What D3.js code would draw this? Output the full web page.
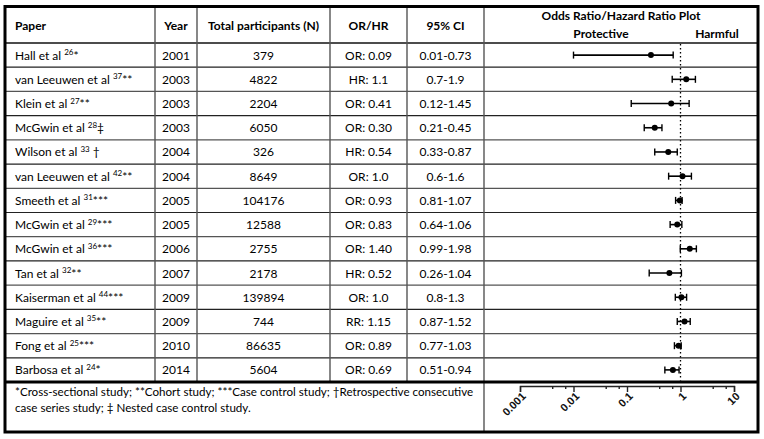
<!DOCTYPE html>
<html>
<head>
<meta charset="utf-8">
<script src="https://cdn.jsdelivr.net/npm/d3@7"></script>
<style>
  body { margin: 0; background: #fff; }
  svg { display: block; }
  .cell { font-family: Lato, "Open Sans", sans-serif; font-size: 12px; fill: #000; }
  .hdr { font-weight: bold; }
</style>
</head>
<body>
<svg id="chart" width="764" height="439"></svg>
<script>
const papers = ['Hall et al', 'van Leeuwen et al', 'Klein et al', 'McGwin et al', 'Wilson et al',
    'van Leeuwen et al', 'Smeeth et al', 'McGwin et al', 'McGwin et al', 'Tan et al',
    'Kaiserman et al', 'Maguire et al', 'Fong et al', 'Barbosa et al'];
const refs = ['26', '37', '27', '28', '33', '42', '31', '29', '36', '32', '44', '35', '25', '24'];
const marks = ['*', '**', '**', '\u2021', ' \u2020', '**', '***', '***', '***', '**', '***', '**', '***', '*'];
const years = [2001, 2003, 2003, 2003, 2004, 2004, 2005, 2005, 2006, 2007, 2009, 2009, 2010, 2014];
const participants = [379, 4822, 2204, 6050, 326, 8649, 104176, 12588, 2755, 2178, 139894, 744, 86635, 5604];
const ratioLabels = ['OR: 0.09', 'HR: 1.1', 'OR: 0.41', 'OR: 0.30', 'HR: 0.54', 'OR: 1.0', 'OR: 0.93',
    'OR: 0.83', 'OR: 1.40', 'HR: 0.52', 'OR: 1.0', 'RR: 1.15', 'OR: 0.89', 'OR: 0.69'];
const ciLow = [0.01, 0.7, 0.12, 0.21, 0.33, 0.6, 0.81, 0.64, 0.99, 0.26, 0.8, 0.87, 0.77, 0.51];
const ciHigh = [0.73, 1.9, 1.45, 0.45, 0.87, 1.6, 1.07, 1.06, 1.98, 1.04, 1.3, 1.52, 1.03, 0.94];
// point estimates as they are drawn in the plot column
const plotPoint = [0.28, 1.28, 0.67, 0.33, 0.59, 1.09, 0.97, 0.87, 1.49, 0.62, 1.04, 1.19, 0.92, 0.72];
const majorTicks = [0.001, 0.01, 0.1, 1, 10];
const minorTicks = [0.004, 0.007, 0.04, 0.07, 0.4, 0.7, 4, 7];
const headers = ['Paper', 'Year', 'Total participants (N)', 'OR/HR', '95% CI'];
const footnote = ['*Cross-sectional study; **Cohort study; ***Case control study; \u2020Retrospective consecutive',
    'case series study; \u2021 Nested case control study.'];

const svg = d3.select('#chart');
const cols = [5, 155, 197, 330, 407, 484, 758];
const tableTop = 7, headBottom = 43, tableBottom = 382, tableEnd = 432;

const y = d3.scaleBand().domain(d3.range(papers.length)).range([headBottom, tableBottom]);
const x = d3.scaleLog().domain([0.001, 10]).range([520, 734]);

// grid lines
const rowLines = d3.range(1, papers.length);
svg.selectAll('.rowline').data(rowLines).enter().append('line')
    .attr('x1', cols[0]).attr('x2', cols[6])
    .attr('y1', (i) => y(i)).attr('y2', (i) => y(i))
    .attr('stroke', (i) => i % 2 ? '#222' : '#555').attr('stroke-width', 1.2);
svg.append('line').attr('x1', cols[0]).attr('x2', cols[6])
    .attr('y1', headBottom).attr('y2', headBottom).attr('stroke', '#111').attr('stroke-width', 1.5);

svg.selectAll('.colline').data(cols.slice(1, 6)).enter().append('line')
    .attr('x1', (d) => d).attr('x2', (d) => d)
    .attr('y1', tableTop).attr('y2', (d, i) => i === 4 ? tableEnd : tableBottom)
    .attr('stroke', '#555').attr('stroke-width', 1.4);

svg.append('line').attr('x1', cols[0]).attr('x2', cols[6])
    .attr('y1', tableBottom).attr('y2', tableBottom).attr('stroke', '#000').attr('stroke-width', 3);
svg.append('rect').attr('x', cols[0]).attr('y', tableTop - 0.5)
    .attr('width', cols[6] - cols[0]).attr('height', tableEnd - tableTop + 0.5)
    .attr('fill', 'none').attr('stroke', '#000').attr('stroke-width', 3);

// header
const colMid = (i) => (cols[i] + cols[i + 1]) / 2;
svg.selectAll('.htext').data(headers).enter().append('text')
    .attr('class', 'cell hdr')
    .attr('x', (d, i) => i === 0 ? 15 : colMid(i))
    .attr('y', 29.5)
    .attr('text-anchor', (d, i) => i === 0 ? 'start' : 'middle')
    .text((d) => d);
svg.append('text').attr('class', 'cell hdr').attr('x', 621).attr('y', 20)
    .attr('text-anchor', 'middle').text('Odds Ratio/Hazard Ratio Plot');
svg.append('text').attr('class', 'cell hdr').attr('x', 601).attr('y', 38)
    .attr('text-anchor', 'middle').text('Protective');
svg.append('text').attr('class', 'cell hdr').attr('x', 717).attr('y', 38)
    .attr('text-anchor', 'middle').text('Harmful');

// rows
const rows = svg.selectAll('.row').data(papers).enter().append('g')
    .attr('transform', (d, i) => `translate(0,${y(i) + y.bandwidth() / 2})`);

const paper = rows.append('text').attr('class', 'cell').attr('x', 15).attr('y', 4.5);
paper.append('tspan').text((d) => d + ' ');
paper.append('tspan').attr('dy', -4.5).style('font-size', '8px').text((d, i) => refs[i]);
paper.append('tspan').attr('dy', 4.5).text((d, i) => marks[i]);

rows.append('text').attr('class', 'cell').attr('x', colMid(1)).attr('y', 4.5)
    .attr('text-anchor', 'middle').text((d, i) => years[i]);
rows.append('text').attr('class', 'cell').attr('x', colMid(2)).attr('y', 4.5)
    .attr('text-anchor', 'middle').text((d, i) => participants[i]);
rows.append('text').attr('class', 'cell').attr('x', colMid(3)).attr('y', 4.5)
    .attr('text-anchor', 'middle').text((d, i) => ratioLabels[i]);
rows.append('text').attr('class', 'cell').attr('x', colMid(4)).attr('y', 4.5)
    .attr('text-anchor', 'middle').text((d, i) => `${ciLow[i]}-${ciHigh[i]}`);

// reference line at 1
svg.append('line').attr('x1', x(1)).attr('x2', x(1))
    .attr('y1', headBottom + 1).attr('y2', tableBottom - 1.5)
    .attr('stroke', '#000').attr('stroke-width', 1.3).attr('stroke-dasharray', '1.4,2.6');

// whiskers and points
rows.append('line').attr('x1', (d, i) => x(ciLow[i])).attr('x2', (d, i) => x(ciHigh[i]))
    .attr('stroke', '#000').attr('stroke-width', 1.6);
rows.append('line').attr('x1', (d, i) => x(ciLow[i])).attr('x2', (d, i) => x(ciLow[i]))
    .attr('y1', -3.5).attr('y2', 3.5).attr('stroke', '#000').attr('stroke-width', 1.4);
rows.append('line').attr('x1', (d, i) => x(ciHigh[i])).attr('x2', (d, i) => x(ciHigh[i]))
    .attr('y1', -3.5).attr('y2', 3.5).attr('stroke', '#000').attr('stroke-width', 1.4);
rows.append('circle').attr('cx', (d, i) => x(plotPoint[i])).attr('r', 3).attr('fill', '#000');

// axis
const axisY = 386;
const axisG = svg.append('g').attr('transform', `translate(0,${axisY})`)
    .call(d3.axisBottom(x).tickValues(majorTicks).tickSize(6).tickFormat(d3.format('~g')));
svg.append('g').attr('transform', `translate(0,${axisY})`)
    .call(d3.axisBottom(x).tickValues(minorTicks).tickSize(3).tickFormat(''))
    .call((g) => g.select('.domain').remove());
svg.selectAll('.domain, .tick line').attr('stroke', '#222').attr('stroke-width', 1.4);
axisG.selectAll('.tick text')
    .attr('y', 0).attr('dy', 0)
    .attr('transform', 'translate(6,11) rotate(-45)')
    .attr('text-anchor', 'end')
    .style('font-family', '"Liberation Sans", Arial, sans-serif')
    .style('font-size', '11px').style('font-weight', 'bold').attr('fill', '#111');

// footnote
svg.selectAll('.foot').data(footnote).enter().append('text')
    .attr('class', 'cell').attr('x', 15).attr('y', (d, i) => 396 + i * 15.5)
    .style('font-size', '11.6px')
    .text((d) => d);
</script>
</body>
</html>
